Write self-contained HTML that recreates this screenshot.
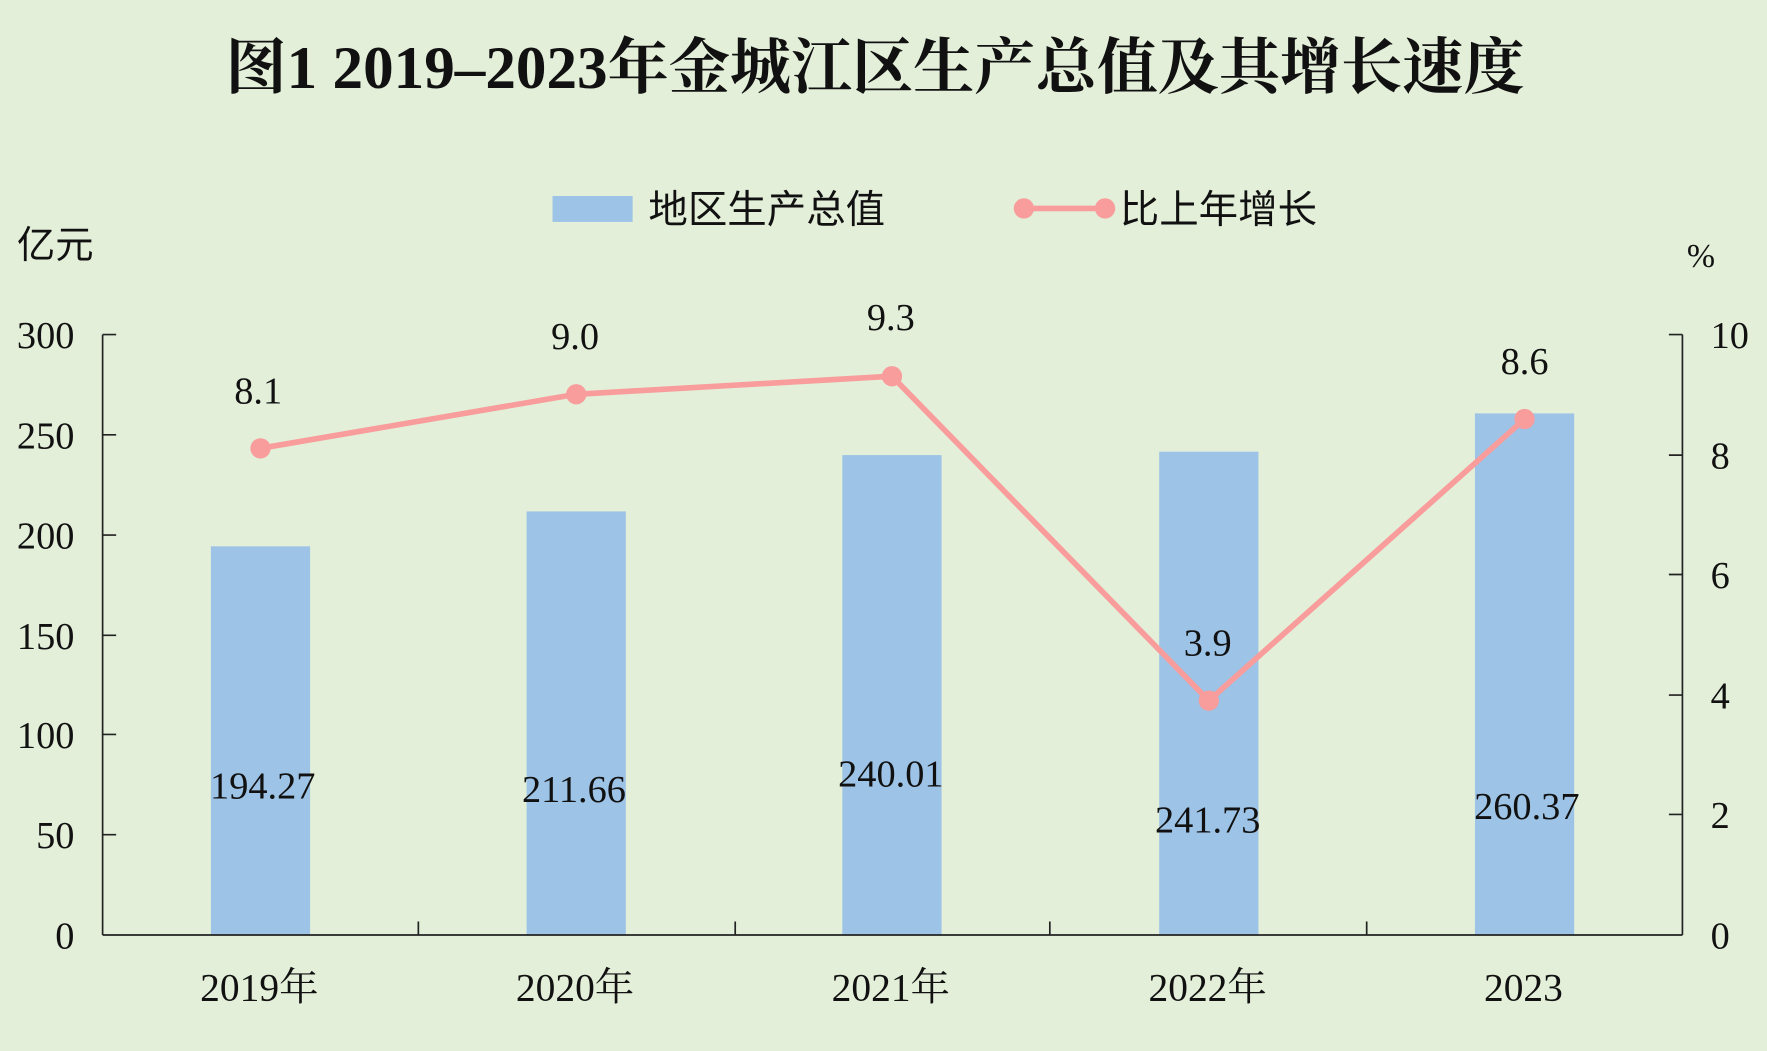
<!DOCTYPE html>
<html><head><meta charset="utf-8"><style>
html,body{margin:0;padding:0;background:#e3efd9;}
svg{display:block;}
text{font-family:"Liberation Serif","Noto Serif CJK SC",serif;fill:#111;}
.c{font-family:"Liberation Serif","Noto Sans CJK SC",sans-serif;}
</style></head><body>
<svg width="1767" height="1051" viewBox="0 0 1567 933" preserveAspectRatio="none" xmlns="http://www.w3.org/2000/svg">
<rect width="1567" height="933" fill="#e3efd9"/>
<text x="200" y="78" textLength="1152" lengthAdjust="spacingAndGlyphs" font-size="54" font-weight="bold">图1  2019–2023年金城江区生产总值及其增长速度</text>
<!-- legend -->
<rect x="490" y="174" width="71" height="23" fill="#9dc3e6"/>
<text x="575" y="198" font-size="35" class="c">地区生产总值</text>
<line x1="908" y1="185" x2="980" y2="185" stroke="#f99c9c" stroke-width="5"/>
<circle cx="908" cy="185" r="9" fill="#f99c9c"/><circle cx="980" cy="185" r="9" fill="#f99c9c"/>
<text x="993" y="198" font-size="35" class="c">比上年增长</text>
<text x="15" y="229" font-size="34" class="c">亿元</text>
<text x="1496" y="237" font-size="30">%</text>
<!-- bars -->
<g fill="#9dc3e6">
<rect x="187" y="485" width="88" height="345"/>
<rect x="467" y="454" width="88" height="376"/>
<rect x="747" y="404" width="88" height="426"/>
<rect x="1028" y="401" width="88" height="429"/>
<rect x="1308" y="367" width="88" height="463"/>
</g>
<!-- axes -->
<g stroke="#222" stroke-width="1.5" fill="none">
<line x1="91" y1="297" x2="91" y2="830"/>
<line x1="1492" y1="297" x2="1492" y2="830"/>
<line x1="91" y1="830" x2="1492" y2="830"/>
<path d="M91 297h12M91 386h12M91 475h12M91 564h12M91 652h12M91 741h12"/>
<path d="M1492 297h-12M1492 404h-12M1492 510h-12M1492 617h-12M1492 723h-12"/>
<path d="M371 830v-12M652 830v-12M931 830v-12M1212 830v-12"/>
</g>
<g font-size="34" text-anchor="end">
<text x="66" y="309">300</text><text x="66" y="398">250</text><text x="66" y="487">200</text>
<text x="66" y="576">150</text><text x="66" y="664">100</text><text x="66" y="753">50</text><text x="66" y="842">0</text>
</g>
<g font-size="34" text-anchor="start">
<text x="1517" y="309">10</text><text x="1517" y="416">8</text><text x="1517" y="522">6</text>
<text x="1517" y="629">4</text><text x="1517" y="735">2</text><text x="1517" y="842">0</text>
</g>
<g font-size="35" text-anchor="middle">
<text x="230" y="888">2019年</text><text x="510" y="888">2020年</text><text x="790" y="888">2021年</text>
<text x="1071" y="888">2022年</text><text x="1351" y="888">2023</text>
</g>
<g font-size="34" text-anchor="middle">
<text x="233" y="709">194.27</text><text x="509" y="712">211.66</text><text x="790" y="698">240.01</text>
<text x="1071" y="739">241.73</text><text x="1354" y="727">260.37</text>
<text x="229" y="358">8.1</text><text x="510" y="310">9.0</text><text x="790" y="293">9.3</text>
<text x="1071" y="582">3.9</text><text x="1352" y="332">8.6</text>
</g>
<polyline points="231,398 511,350 791,334 1072,622 1352,372" fill="none" stroke="#f99c9c" stroke-width="5"/>
<g fill="#f99c9c">
<circle cx="231" cy="398" r="9"/><circle cx="511" cy="350" r="9"/><circle cx="791" cy="334" r="9"/>
<circle cx="1072" cy="622" r="9"/><circle cx="1352" cy="372" r="9"/>
</g>
</svg>
</body></html>
